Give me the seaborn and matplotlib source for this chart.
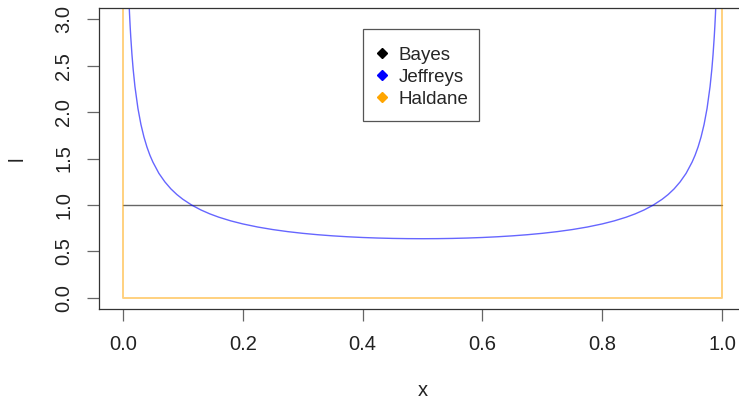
import matplotlib
matplotlib.use("Agg")
import matplotlib.pyplot as plt
from matplotlib.lines import Line2D
from matplotlib.patches import Rectangle
import seaborn as sns
import pandas as pd

# ---- data ----
bayes_x = [0.0, 1.0]
bayes_y = [1.0, 1.0]

jeffreys_x = [0.01, 0.0105, 0.011, 0.012, 0.013, 0.015, 0.017, 0.02, 0.025, 0.03,
              0.035, 0.04, 0.045, 0.05, 0.06, 0.07, 0.08, 0.09, 0.10, 0.115,
              0.13, 0.145, 0.16, 0.18, 0.20, 0.225, 0.25, 0.275, 0.30, 0.325,
              0.35, 0.375, 0.40, 0.425, 0.45, 0.475, 0.50,
              0.525, 0.55, 0.575, 0.60, 0.625, 0.65, 0.675, 0.70, 0.725, 0.75,
              0.775, 0.80, 0.82, 0.84, 0.855, 0.87, 0.885, 0.90,
              0.91, 0.92, 0.93, 0.94, 0.95, 0.955, 0.96, 0.965, 0.97, 0.975,
              0.98, 0.983, 0.985, 0.987, 0.988, 0.989, 0.9895, 0.99]
jeffreys_y = [3.20, 3.123, 3.052, 2.923, 2.810, 2.619, 2.462, 2.274, 2.039, 1.866,
              1.732, 1.624, 1.535, 1.461, 1.340, 1.248, 1.173, 1.112, 1.061, 0.9978,
              0.9465, 0.9040, 0.8682, 0.8285, 0.7958, 0.7623, 0.7351, 0.7129, 0.6946, 0.6796,
              0.6674, 0.6575, 0.6497, 0.6439, 0.6398, 0.6374, 0.6366,
              0.6374, 0.6398, 0.6439, 0.6497, 0.6575, 0.6674, 0.6796, 0.6946, 0.7129, 0.7351,
              0.7623, 0.7958, 0.8285, 0.8682, 0.9040, 0.9465, 0.9978, 1.061,
              1.112, 1.173, 1.248, 1.340, 1.461, 1.535, 1.624, 1.732, 1.866, 2.039,
              2.274, 2.462, 2.619, 2.810, 2.923, 3.052, 3.123, 3.20]

haldane_x = [0.0, 0.0, 1.0, 1.0]
haldane_y = [10.0, 0.0, 0.0, 10.0]

legend_labels = ["Bayes", "Jeffreys", "Haldane"]
legend_colors = ["black", "blue", "orange"]
xticks = [0.0, 0.2, 0.4, 0.6, 0.8, 1.0]
yticks = [0.0, 0.5, 1.0, 1.5, 2.0, 2.5, 3.0]

# ---- style ----
sns.set_style("ticks")
plt.rcParams["font.family"] = ["Liberation Sans", "DejaVu Sans"]

W, H = 739, 400
fig = plt.figure(figsize=(W / 100, H / 100), dpi=100)
left, right, top, bottom = 99, 746, 8, 309
ax = fig.add_axes([left / W, 1 - bottom / H, (right - left) / W, (bottom - top) / H])

df_b = pd.DataFrame({"x": bayes_x, "y": bayes_y})
df_j = pd.DataFrame({"x": jeffreys_x, "y": jeffreys_y})
df_h = pd.DataFrame({"x": haldane_x, "y": haldane_y})

sns.lineplot(data=df_b, x="x", y="y", ax=ax, color="black", alpha=0.6,
             lw=1.0, sort=False, estimator=None)
sns.lineplot(data=df_j, x="x", y="y", ax=ax, color="blue", alpha=0.6,
             lw=1.0, sort=False, estimator=None)
sns.lineplot(data=df_h, x="x", y="y", ax=ax, color="orange", alpha=0.5,
             lw=1.4, sort=False, estimator=None)

ax.set_xlim(-0.04, 1.04)
ax.set_ylim(-0.12, 3.12)
ax.set_xticks(xticks)
ax.set_xticklabels([f"{v:.1f}" for v in xticks])
ax.set_yticks(yticks)
ax.set_yticklabels([f"{v:.1f}" for v in yticks], rotation=90, va="center")
ax.tick_params(axis="both", direction="out", length=8.5, width=0.9,
               color="#666666", labelsize=14.5, labelcolor="#222222")
ax.tick_params(axis="x", pad=10)
ax.tick_params(axis="y", pad=10)
for s in ax.spines.values():
    s.set_visible(True)
    s.set_color("#333333")
    s.set_linewidth(0.9)

ax.set_xlabel("x", fontsize=14.5, color="#222222")
ax.set_ylabel("l", fontsize=14.5, color="#222222")
ax.xaxis.set_label_coords(0.5, (bottom - 390) / (bottom - top))
ax.xaxis.label.set_verticalalignment("center")
ax.yaxis.set_label_coords((17 - left) / (right - left), 0.5)
ax.yaxis.label.set_verticalalignment("center")

# legend frame drawn separately for exact placement
frame = Rectangle((363 / W, 1 - 121 / H), 116 / W, 92 / H, transform=fig.transFigure,
                  facecolor="white", edgecolor="#555555", lw=0.9, zorder=4, clip_on=False)
ax.add_patch(frame)

handles = [Line2D([], [], marker="D", ls="none", color=c, markersize=5)
           for c in legend_colors]
leg = ax.legend(handles, legend_labels, loc="upper left",
                bbox_to_anchor=(378.5 / W, 1 - 46.7 / H), bbox_transform=fig.transFigure,
                fontsize=13.5, frameon=False, borderpad=0, handlelength=0.4,
                handletextpad=0.66, labelspacing=0.26, borderaxespad=0)
leg.set_zorder(5)

ax.grid(False)
fig.savefig("out.png", dpi=100)
